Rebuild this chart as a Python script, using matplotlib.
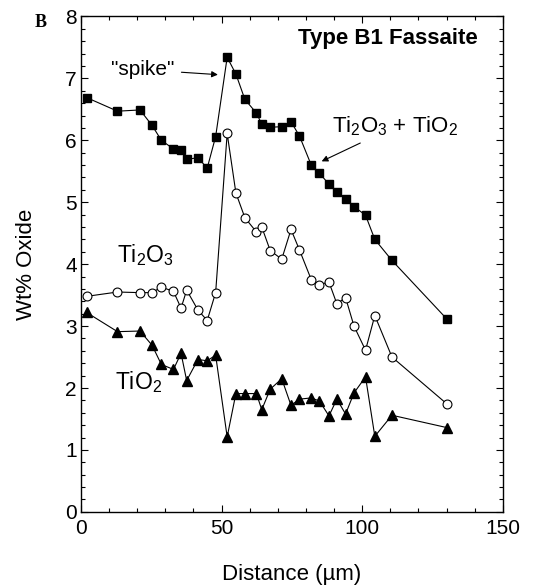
import numpy as np
import matplotlib.pyplot as plt
from matplotlib.ticker import MultipleLocator

plt.rcParams['font.family'] = ['Liberation Sans', 'DejaVu Sans']

# distance along the traverse (um)
distance = [2.0, 13.0, 21.0, 25.3, 28.6, 32.9, 35.6, 37.6, 41.6, 44.9,
            47.9, 52.0, 55.1, 58.3, 62.4, 64.3, 67.3, 71.4, 74.7, 77.7,
            81.9, 84.8, 88.2, 91.0, 94.1, 97.1, 101.2, 104.5, 110.6, 130.2]

total = [6.69, 6.47, 6.49, 6.24, 6.00, 5.86, 5.84, 5.69, 5.72, 5.55,
         6.06, 7.34, 7.07, 6.66, 6.44, 6.26, 6.21, 6.22, 6.30, 6.07,
         5.60, 5.47, 5.29, 5.17, 5.05, 4.93, 4.79, 4.40, 4.06, 3.11]

ti2o3 = [3.48, 3.55, 3.54, 3.54, 3.63, 3.56, 3.29, 3.58, 3.26, 3.09,
         3.54, 6.11, 5.15, 4.75, 4.52, 4.60, 4.22, 4.08, 4.56, 4.23,
         3.75, 3.67, 3.71, 3.36, 3.46, 3.00, 2.61, 3.17, 2.50, 1.74]

tio2 = [3.22, 2.91, 2.92, 2.69, 2.38, 2.30, 2.56, 2.12, 2.46, 2.44,
        2.53, 1.21, 1.91, 1.91, 1.91, 1.65, 1.98, 2.15, 1.72, 1.82,
        1.84, 1.79, 1.55, 1.82, 1.58, 1.92, 2.18, 1.22, 1.56, 1.36]

fig = plt.figure(figsize=(5.36, 5.87), dpi=100)
ax = fig.add_axes([0.151, 0.128, 0.787, 0.844])

lw = 0.8
ax.plot(distance, total, color='black', lw=lw, marker='s', ms=6.4,
        mfc='black', mec='black')
ax.plot(distance, ti2o3, color='black', lw=lw, marker='o', ms=6.4,
        mfc='white', mec='black', mew=0.8)
ax.plot(distance, tio2, color='black', lw=lw, marker='^', ms=7.0,
        mfc='black', mec='black')

ax.set_xlim(0, 150)
ax.set_ylim(0, 8)
ax.xaxis.set_major_locator(MultipleLocator(50))
ax.xaxis.set_minor_locator(MultipleLocator(10))
ax.yaxis.set_major_locator(MultipleLocator(1))
ax.yaxis.set_minor_locator(MultipleLocator(0.2))
ax.tick_params(which='both', direction='in', top=True, right=True,
               width=0.8, labelsize=15)
ax.tick_params(which='major', length=5)
ax.tick_params(which='minor', length=3)
ax.tick_params(axis='x', pad=5)
ax.tick_params(axis='y', pad=3)
for sp in ax.spines.values():
    sp.set_linewidth(1.0)

ax.set_xlabel('Distance (µm)', fontsize=16, labelpad=19)
ax.set_ylabel('Wt% Oxide', fontsize=16, labelpad=20)

ax.text(0.941, 0.955, 'Type B1 Fassaite', transform=ax.transAxes,
        ha='right', va='center', fontsize=16, fontweight='bold')
ax.annotate('"spike"', xy=(48.7, 7.06), xytext=(22, 7.14),
            ha='center', va='center', fontsize=15,
            arrowprops=dict(arrowstyle='-|>', color='black', lw=0.8,
                            mutation_scale=9, shrinkA=3, shrinkB=0))
ax.annotate(r'$\mathregular{Ti_2O_3}$ + $\mathregular{TiO_2}$',
            xy=(85.6, 5.66), xytext=(111.6, 6.22),
            ha='center', va='center', fontsize=16,
            arrowprops=dict(arrowstyle='-|>', color='black', lw=0.8,
                            mutation_scale=9, shrinkA=3, shrinkB=0))
ax.text(12.7, 4.15, r'$\mathregular{Ti_2O_3}$', ha='left', va='center',
        fontsize=16.5)
ax.text(12.1, 2.10, r'$\mathregular{TiO_2}$', ha='left', va='center',
        fontsize=16.5)

fig.text(0.075, 0.962, 'B', family='Liberation Serif', fontweight='bold',
         fontsize=13, ha='center', va='center')

fig.savefig('out.png', dpi=100)
